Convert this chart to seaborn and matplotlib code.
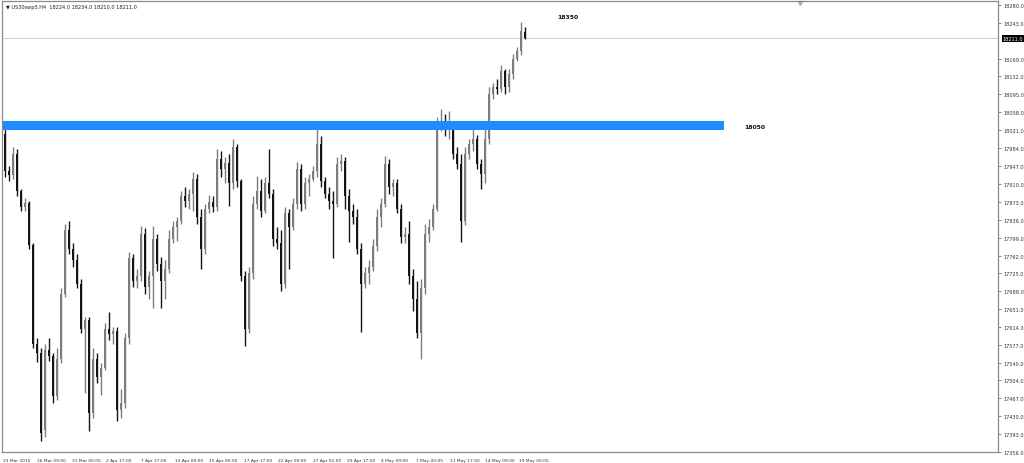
import matplotlib
matplotlib.use("Agg")
import matplotlib.pyplot as plt
import matplotlib.transforms as mtransforms
import numpy as np
import seaborn as sns

# H4 candles (one candle here ~ two of the original bars)
symbol = "US30swp5.H4"
opens = [18014, 17937, 17929, 17972, 17896, 17863, 17871, 17783, 17580, 17560,
         17401, 17566, 17554, 17471, 17549, 17683, 17814, 17776, 17752, 17704,
         17611, 17628, 17436, 17549, 17512, 17529, 17611, 17599, 17607, 17442,
         17457, 17591, 17756, 17710, 17719, 17807, 17698, 17719, 17797, 17745,
         17710, 17735, 17797, 17822, 17834, 17884, 17875, 17890, 17921, 17842,
         17776, 17859, 17873, 17863, 17962, 17941, 17954, 17911, 17987, 17915,
         17719, 17611, 17725, 17869, 17896, 17855, 17911, 17890, 17797, 17787,
         17704, 17849, 17822, 17869, 17941, 17869, 17911, 17921, 17937, 17993,
         17917, 17890, 17875, 17869, 17952, 17958, 17884, 17855, 17842, 17776,
         17704, 17725, 17739, 17781, 17842, 17869, 17952, 17904, 17911, 17859,
         17801, 17807, 17719, 17673, 17601, 17694, 17807, 17822, 17859, 18034,
         18041, 18024, 18028, 17972, 17952, 17834, 17972, 17993, 18003, 17952,
         17931, 18003, 18096, 18111, 18107, 18144, 18111, 18138, 18169, 18185,
         18224]
highs = [18034, 17946, 17987, 17983, 17900, 17880, 17875, 17787, 17591, 17570,
         17580, 17591, 17560, 17570, 17694, 17828, 17834, 17787, 17766, 17714,
         17636, 17636, 17570, 17560, 17539, 17622, 17646, 17615, 17615, 17487,
         17601, 17770, 17766, 17735, 17824, 17818, 17731, 17824, 17807, 17760,
         17752, 17814, 17834, 17842, 17896, 17904, 17900, 17935, 17931, 17859,
         17869, 17888, 17884, 17983, 17979, 17966, 17972, 18003, 17993, 17921,
         17731, 17739, 17884, 17927, 17921, 17925, 17983, 17900, 17822, 17814,
         17863, 17859, 17880, 17956, 17952, 17925, 17931, 17946, 18024, 18010,
         17925, 17904, 17896, 17966, 17972, 17966, 17900, 17869, 17859, 17787,
         17739, 17752, 17797, 17859, 17880, 17968, 17962, 17921, 17921, 17869,
         17822, 17834, 17735, 17710, 17714, 17828, 17838, 17869, 18049, 18065,
         18055, 18061, 18034, 17987, 17972, 17987, 18003, 18030, 18012, 17962,
         18024, 18111, 18119, 18127, 18156, 18148, 18148, 18179, 18193, 18245,
         18234]
lows = [17925, 17917, 17921, 17884, 17853, 17855, 17776, 17570, 17543, 17378,
        17388, 17545, 17457, 17463, 17539, 17677, 17766, 17739, 17694, 17601,
        17477, 17399, 17426, 17498, 17473, 17525, 17587, 17580, 17421, 17426,
        17446, 17580, 17698, 17694, 17710, 17683, 17673, 17653, 17731, 17653,
        17673, 17725, 17787, 17793, 17828, 17863, 17859, 17855, 17828, 17735,
        17766, 17849, 17851, 17855, 17925, 17911, 17865, 17900, 17904, 17710,
        17576, 17601, 17714, 17859, 17842, 17849, 17880, 17781, 17776, 17688,
        17694, 17735, 17814, 17859, 17855, 17859, 17884, 17917, 17925, 17904,
        17880, 17859, 17756, 17863, 17937, 17859, 17791, 17828, 17766, 17605,
        17694, 17704, 17731, 17772, 17822, 17863, 17890, 17884, 17849, 17787,
        17787, 17704, 17648, 17591, 17549, 17683, 17791, 17814, 17853, 18020,
        18008, 18003, 17962, 17941, 17791, 17826, 17962, 17979, 17941, 17900,
        17911, 17993, 18086, 18096, 18100, 18096, 18100, 18127, 18164, 18177,
        18210]
closes = [17937, 17929, 17972, 17896, 17863, 17871, 17783, 17580, 17560, 17395,
          17566, 17554, 17471, 17549, 17683, 17814, 17776, 17752, 17704, 17611,
          17628, 17436, 17549, 17512, 17529, 17611, 17599, 17607, 17442, 17457,
          17591, 17756, 17710, 17719, 17807, 17698, 17719, 17797, 17745, 17710,
          17735, 17797, 17822, 17834, 17884, 17875, 17890, 17921, 17842, 17776,
          17859, 17873, 17863, 17962, 17941, 17954, 17911, 17987, 17915, 17719,
          17611, 17725, 17869, 17896, 17855, 17911, 17890, 17797, 17787, 17704,
          17849, 17822, 17869, 17941, 17869, 17911, 17921, 17937, 17993, 17917,
          17890, 17875, 17869, 17952, 17958, 17884, 17855, 17842, 17776, 17704,
          17725, 17739, 17781, 17842, 17869, 17952, 17904, 17911, 17859, 17801,
          17807, 17719, 17673, 17601, 17694, 17807, 17822, 17859, 18034, 18041,
          18024, 18028, 17972, 17952, 17834, 17972, 17993, 18003, 17952, 17931,
          18003, 18096, 18111, 18107, 18144, 18111, 18138, 18169, 18185, 18226,
          18211]

price_ticks = [18280, 18243, 18169, 18132, 18095, 18058, 18021, 17984, 17947,
               17910, 17873, 17836, 17799, 17762, 17725, 17688, 17651, 17614,
               17577, 17540, 17504, 17467, 17430, 17393, 17356]
date_labels = ["23 Mar 2015", "26 Mar 09:00", "31 Mar 00:05", "2 Apr 17:00",
               "7 Apr 17:00", "10 Apr 09:00", "15 Apr 00:05", "17 Apr 17:00",
               "22 Apr 09:00", "27 Apr 01:00", "29 Apr 17:00", "4 May 09:00",
               "7 May 00:05", "11 May 17:00", "14 May 09:00", "19 May 00:05"]
zone_low, zone_high = 18021, 18041
zone_text = "18050"
target_text = "18350"

sns.set_style("white")
plt.rcParams['font.family'] = ['DejaVu Sans']

fig = plt.figure(figsize=(10.24, 4.64), dpi=100)
ax = fig.add_axes([2 / 1024, 11 / 464, 996 / 1024, 451 / 464])

o = np.array(opens)
h = np.array(highs)
l = np.array(lows)
c = np.array(closes)
idx = np.arange(len(c))
up = c >= o
up_col, down_col = '#7d7d7d', '#151515'

# wicks then bodies
ax.vlines(idx[up], l[up], h[up], color=up_col, lw=1.0)
ax.vlines(idx[~up], l[~up], h[~up], color=down_col, lw=1.0)
ax.bar(idx[up], (c - o)[up], bottom=o[up], width=0.7, color=up_col, lw=0)
ax.bar(idx[~up], (c - o)[~up], bottom=o[~up], width=0.7, color=down_col, lw=0)

# resistance zone + current price line
ax.axhspan(zone_low, zone_high, xmin=0.001, xmax=0.725, color='#1e8cff', lw=0, zorder=3)
ax.axhline(c[-1], color='#c8c8c8', lw=0.6, zorder=0)

ax.text(140.75, 18257, target_text, ha='center', va='center', fontsize=4.4,
        fontweight='bold', color='#111')
ax.text(187.5, 18029, zone_text, ha='center', va='center', fontsize=4.4,
        fontweight='bold', color='#111')

ax.set_xlim(-0.75, 248.25)
ax.set_ylim(17357, 18288)

# price scale on the right
ax.yaxis.tick_right()
ax.set_yticks(price_ticks)
ax.set_yticklabels([f"{v:.1f}" for v in price_ticks])
ax.tick_params(axis='y', length=2, width=0.5, color='#555', labelsize=3.6,
               pad=2, labelcolor='#333')

trans = mtransforms.blended_transform_factory(ax.transAxes, ax.transData)
ax.text(1.0045, c[-1], f"{c[-1]:.1f}", transform=trans, ha='left', va='center',
        fontsize=3.6, color='white',
        bbox=dict(boxstyle='square,pad=0.15', fc='black', ec='none'))

# time scale
ax.set_xticks(np.arange(len(date_labels)) * 8.6 - 0.5)
ax.set_xticklabels(date_labels)
for t in ax.get_xticklabels():
    t.set_ha('left')
ax.tick_params(axis='x', length=3, width=0.5, color='#555', labelsize=3.2,
               pad=1, labelcolor='#333')

for s in ax.spines.values():
    s.set_color('#8a8a8a')
    s.set_linewidth(0.9)

# chart header and shift marker
fig.text(6 / 1024, 1 - 8 / 464,
         f"\u25bc {symbol}  {opens[-1]:.1f} {highs[-1]:.1f} {lows[-1]:.1f} {closes[-1]:.1f}",
         fontsize=3.6, color='#222', va='center', ha='left')
ax.plot([0.801], [0.996], marker='v', ms=3, color='#b0b0b0', transform=ax.transAxes,
        clip_on=False)

fig.savefig("out.png", dpi=100, facecolor='white')
